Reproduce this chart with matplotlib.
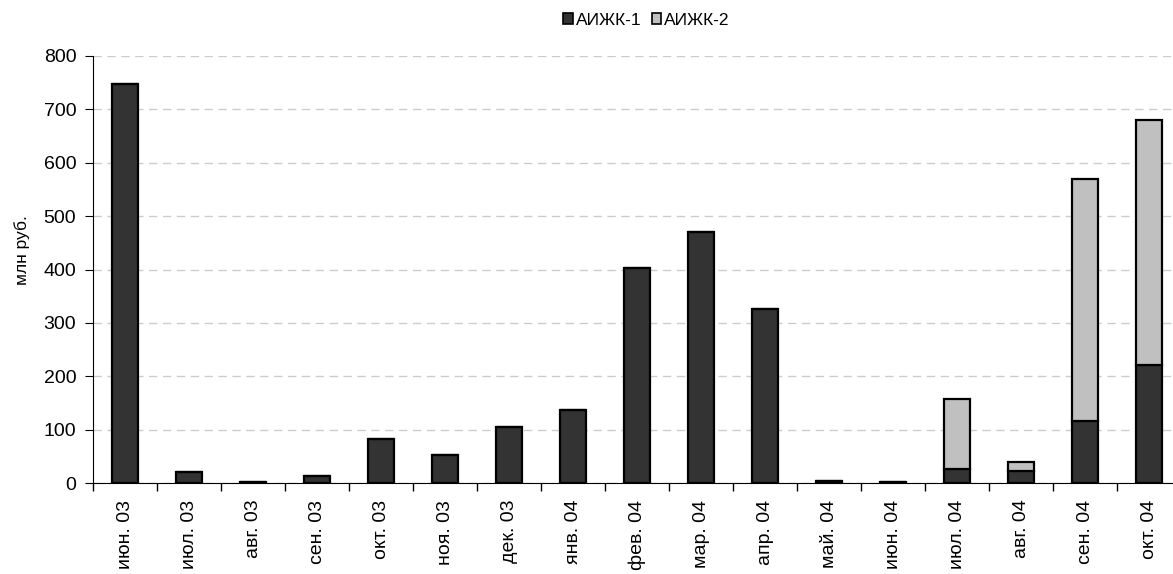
import numpy as np
import matplotlib.pyplot as plt
from matplotlib.patches import Patch

plt.rcParams['font.family'] = ['Liberation Sans', 'DejaVu Sans']

# данные
months = ["июн. 03", "июл. 03", "авг. 03", "сен. 03", "окт. 03", "ноя. 03", "дек. 03",
          "янв. 04", "фев. 04", "мар. 04", "апр. 04", "май. 04", "июн. 04", "июл. 04",
          "авг. 04", "сен. 04", "окт. 04"]
aijk1 = [747, 20, 2, 14, 82, 52, 105, 137, 403, 470, 326, 4, 1, 27, 22, 116, 222]
aijk2 = [0, 0, 0, 0, 0, 0, 0, 0, 0, 0, 0, 0, 0, 130, 18, 453, 459]

fig = plt.figure(figsize=(11.73, 5.74), dpi=100)
ax = fig.add_axes([93 / 1173, 1 - 483 / 574, 1088 / 1173, (483 - 56) / 574])

x = np.arange(len(months))
w = 0.42
ax.bar(x, aijk1, width=w, color='#333333', edgecolor='black', linewidth=1.6, zorder=3)
ax.bar(x, aijk2, width=w, bottom=aijk1, color='#c0c0c0', edgecolor='black', linewidth=1.6, zorder=3)

ax.set_xlim(-0.5, len(months) - 0.5)
ax.set_ylim(0, 800)
ax.set_yticks(np.arange(0, 801, 100))
ax.yaxis.grid(True, linestyle=(0, (6, 4)), color='#cccccc', linewidth=1, zorder=0)

ax.set_xticks(x)
ax.set_xticklabels(months, rotation=90, fontsize=14)
ax.set_xticks(np.arange(-0.5, len(months), 1), minor=True)
ax.tick_params(axis='x', which='major', length=0, pad=12)
ax.tick_params(axis='x', which='minor', length=6, width=1, direction='out')
ax.tick_params(axis='y', labelsize=14, length=6, direction='out', pad=6)

for s in ['top', 'right']:
    ax.spines[s].set_visible(False)

ax.set_ylabel("млн руб.", fontsize=12.5)
ax.yaxis.set_label_coords(-0.058, 0.545)

handles = [Patch(facecolor='#333333', edgecolor='black', linewidth=1.2, label='АИЖК-1'),
           Patch(facecolor='#c0c0c0', edgecolor='black', linewidth=1.2, label='АИЖК-2')]
fig.legend(handles=handles, loc='upper center', bbox_to_anchor=(0.551, 1.005), ncol=2,
           frameon=False, fontsize=12.5, handlelength=0.55, handleheight=0.55,
           handletextpad=0.15, columnspacing=0.6)

fig.savefig("out.png", dpi=100)
